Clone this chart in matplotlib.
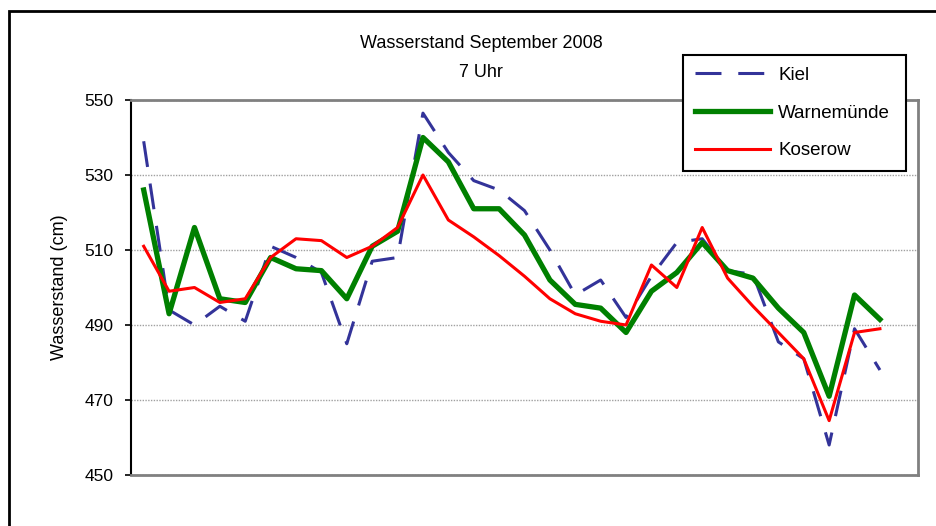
"""Wasserstand September 2008, 7 Uhr: Kiel, Warnemünde, Koserow."""

import matplotlib.pyplot as plt
from matplotlib.patches import Rectangle

plt.rcParams["font.family"] = ["Liberation Sans", "DejaVu Sans"]

# Tageswerte 1.-30. September (cm)
days = list(range(1, 31))
kiel = [539, 494, 490, 495, 491, 511, 508, 504, 485, 507,
        508, 546.5, 536, 528.5, 526, 520.5, 510, 498, 502, 492,
        503, 512, 513, 504.5, 503.5, 485.5, 481, 458, 489, 478]
warnemuende = [526, 493, 516, 497, 496, 508, 505, 504.5, 497, 511,
               515, 540, 533.5, 521, 521, 514, 502, 495.5, 494.5, 488,
               499, 504, 512, 504.5, 502.5, 494.5, 488, 471, 498, 491.5]
koserow = [511, 499, 500, 496, 497, 508, 513, 512.5, 508, 511,
           516, 530, 518, 513.5, 508.5, 503, 497, 493, 491, 490,
           506, 500, 516, 502.5, 495, 488, 481, 464.5, 488, 489]
y_ticks = [450, 470, 490, 510, 530, 550]

W, H = 936, 526
fig = plt.figure(figsize=(W / 100, H / 100), dpi=100)

# outer chart border (cut off on the right and bottom)
fig.patches.append(Rectangle((9 / W, -0.05), 1.1, 1 - 11 / H + 0.05,
                             transform=fig.transFigure, fill=False,
                             edgecolor="black", linewidth=2))

ax = fig.add_axes([131 / W, 1 - 475 / H, (918 - 131) / W, 375 / H])

x = list(range(len(days)))
ax.plot(x, kiel, color="#333399", linewidth=2.2, dashes=(8.5, 5.5),
        label="Kiel", zorder=3)
ax.plot(x, warnemuende, color="#008000", linewidth=3.8,
        label="Warnemünde", zorder=4)
ax.plot(x, koserow, color="#FF0000", linewidth=2.2, label="Koserow", zorder=5)

ax.set_xlim(-0.5, 30.5)
ax.set_ylim(450, 550)
ax.set_yticks(y_ticks)
ax.set_xticks([])
ax.yaxis.grid(True, color="#a0a0a0", linewidth=1, linestyle=(0, (1, 1)))
ax.set_axisbelow(True)

for side in ("top", "right", "bottom"):
    ax.spines[side].set_color("#808080")
    ax.spines[side].set_linewidth(2)
ax.spines["left"].set_color("black")
ax.spines["left"].set_linewidth(1.5)
ax.tick_params(axis="y", direction="out", length=4.5, width=1.2,
               labelsize=12.5, pad=8)

ax.set_ylabel("Wasserstand (cm)", fontsize=13, labelpad=12)

fig.text(481 / W, 1 - 44 / H, "Wasserstand September 2008",
         ha="center", va="center", fontsize=13)
fig.text(481 / W, 1 - 72 / H, "7 Uhr", ha="center", va="center", fontsize=13)

leg = fig.legend(loc="upper left",
                 bbox_to_anchor=(683 / W, 1 - 169 / H, 223 / W, 114 / H),
                 mode="expand", fontsize=13.5, frameon=True, fancybox=False,
                 framealpha=1, edgecolor="black", borderpad=0.62,
                 handlelength=4.0, labelspacing=1.1, handletextpad=0.45,
                 borderaxespad=0)
leg.get_frame().set_linewidth(1.5)

plt.savefig("out.png", dpi=100)
plt.close()
